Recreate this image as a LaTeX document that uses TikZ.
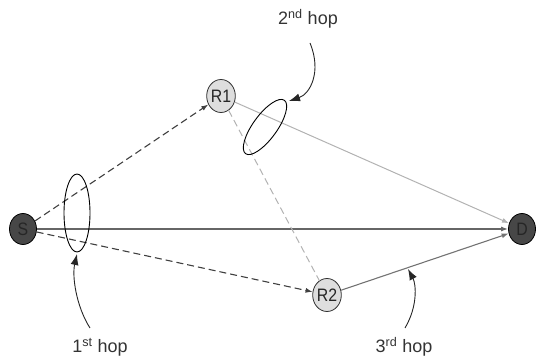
\documentclass[tikz,border=0pt]{standalone}
\usepackage{fontspec}
\setmainfont{Liberation Sans}
\usetikzlibrary{shapes.geometric,arrows.meta}
\newcommand{\narrow}[1]{\scalebox{0.88}[1]{#1}}
\begin{document}
\begin{tikzpicture}[x=1pt,y=-1pt,
  endnode/.style={ellipse,draw=black,line width=0.8pt,fill=black!72,minimum width=27pt,minimum height=31pt,inner sep=0pt,font=\fontsize{18}{18}\selectfont,text=black!85},
  relay/.style={ellipse,draw=black!80,line width=0.8pt,fill=black!13,minimum width=27pt,minimum height=33pt,inner sep=0pt,font=\fontsize{18}{18}\selectfont,text=black!85},
  hopring/.style={ellipse,draw=black,line width=0.9pt,inner sep=0pt},
  hoplabel/.style={font=\fontsize{18}{20}\selectfont,text=black!80,inner sep=0pt},
  hoparrow/.style={draw=black!85,line width=0.9pt,-{Latex[length=11pt,width=8pt]}},
  dashline/.style={draw=black!75,line width=1.1pt,dash pattern=on 7pt off 4pt,-{Latex[length=7pt,width=5pt]}},
  tipline/.style={-{Latex[length=7pt,width=5pt]}}
]
\useasboundingbox (0,0) rectangle (536,363);
\node[endnode] (S) at (23,229) {\narrow{S}};
\node[endnode] (D) at (522,229) {\narrow{D}};
\node[relay] (R1) at (221,96) {\narrow{R1}};
\node[relay] (R2) at (327,295) {\narrow{R2}};

\draw[draw=black!60,line width=1.2pt,tipline] (S) -- (D);
\draw[draw=black!30,line width=1pt,tipline] (R1) -- (D);
\draw[draw=black!55,line width=1.1pt,tipline] (R2) -- (D);
\draw[draw=black!30,line width=1pt,dash pattern=on 7pt off 4pt] (R1) -- (R2);
\draw[dashline] (S) -- (R1);
\draw[dashline] (S) -- (R2);

\node[hopring,minimum width=26pt,minimum height=78pt] (e1) at (77,213) {};
\node[hopring,minimum width=66pt,minimum height=24pt,rotate=54] (e2) at (265,127) {};

\node[hoplabel] (l1) at (100,347) {1\textsuperscript{st} hop};
\node[hoplabel] (l2) at (308,19) {2\textsuperscript{nd} hop};
\node[hoplabel] (l3) at (404,347) {3\textsuperscript{rd} hop};

\coordinate (a1s) at (90,328);
\coordinate (a1e) at (77,254);
\coordinate (a2s) at (310,43);
\coordinate (a2e) at (289,101);
\coordinate (a3s) at (405,328);
\coordinate (a3e) at (408,269);
\draw[hoparrow] (a1s) .. controls (76,306) and (72,276) .. (a1e);
\draw[hoparrow] (a2s) .. controls (322,72) and (310,94) .. (a2e);
\draw[hoparrow] (a3s) .. controls (418,306) and (416,284) .. (a3e);
\end{tikzpicture}
\end{document}
